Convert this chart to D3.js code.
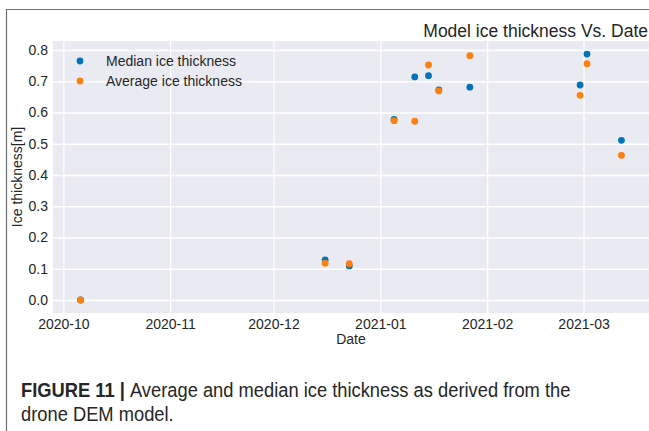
<!DOCTYPE html>
<html>
<head>
<meta charset="utf-8">
<script src="https://cdn.jsdelivr.net/npm/d3@7"></script>
<style>
  body { margin: 0; background: #fff; }
  svg { display: block; }
  text { font-family: "Liberation Sans", Arial, sans-serif; fill: #262626; }
</style>
</head>
<body>
<svg id="chart"></svg>
<script>
const width = 649;
const height = 431;

const dates = ["2020-10-06", "2020-12-16", "2020-12-23", "2021-01-05", "2021-01-11",
  "2021-01-15", "2021-01-18", "2021-01-27", "2021-02-28", "2021-03-02", "2021-03-12"];
const median = [0.0, 0.128, 0.109, 0.578, 0.714, 0.718, 0.672, 0.681, 0.688, 0.787, 0.511];
const average = [0.0, 0.118, 0.116, 0.574, 0.572, 0.752, 0.669, 0.782, 0.655, 0.756, 0.463];
const yTicks = [0.0, 0.1, 0.2, 0.3, 0.4, 0.5, 0.6, 0.7, 0.8];
const xTicks = ["2020-10-01", "2020-11-01", "2020-12-01", "2021-01-01", "2021-02-01", "2021-03-01"];

const blue = "#0173b6";
const orange = "#fd7f0e";

const parse = d3.utcParse("%Y-%m-%d");
const margin = { left: 53, right: 0, top: 41, bottom: 118 };

const svg = d3.select("#chart").attr("width", width).attr("height", height);

// figure frame
svg.append("path")
  .attr("d", `M6.5,${height} V9.5 H${width}`)
  .attr("fill", "none")
  .attr("stroke", "#6e6e6e")
  .attr("stroke-width", 1.2);

const xScale = d3.scaleUtc()
  .domain([parse("2020-09-28"), parse("2021-03-20")])
  .range([margin.left, width - margin.right]);

const yScale = d3.scaleLinear()
  .domain([-0.0416, 0.8288])
  .range([height - margin.bottom, margin.top]);

svg.append("rect")
  .attr("x", margin.left)
  .attr("y", margin.top)
  .attr("width", width - margin.left - margin.right)
  .attr("height", height - margin.bottom - margin.top)
  .attr("fill", "#eaeaf2");

// grid + ticks
const xAxis = svg.append("g")
  .attr("transform", `translate(0, ${height - margin.bottom})`)
  .call(d3.axisBottom(xScale)
    .tickValues(xTicks.map(parse))
    .tickFormat(d3.utcFormat("%Y-%m"))
    .tickSize(-(height - margin.bottom - margin.top))
    .tickPadding(6));
xAxis.select(".domain").remove();
xAxis.selectAll("line").attr("stroke", "#fff").attr("stroke-width", 1.3);
xAxis.selectAll("text").attr("font-size", 14).attr("fill", "#262626");

const yAxis = svg.append("g")
  .attr("transform", `translate(${margin.left}, 0)`)
  .call(d3.axisLeft(yScale)
    .tickValues(yTicks)
    .tickFormat(d3.format(".1f"))
    .tickSize(-(width - margin.left - margin.right))
    .tickPadding(5));
yAxis.select(".domain").remove();
yAxis.selectAll("line").attr("stroke", "#fff").attr("stroke-width", 1.3);
yAxis.selectAll("text").attr("font-size", 14).attr("fill", "#262626");

// points
svg.append("g")
  .selectAll("circle")
  .data(dates.map((d, i) => ({ date: parse(d), v: median[i] })))
  .enter()
  .append("circle")
  .attr("cx", d => xScale(d.date))
  .attr("cy", d => yScale(d.v))
  .attr("r", 3.4)
  .attr("fill", blue);

svg.append("g")
  .selectAll("circle")
  .data(dates.map((d, i) => ({ date: parse(d), v: average[i] })))
  .enter()
  .append("circle")
  .attr("cx", d => xScale(d.date))
  .attr("cy", d => yScale(d.v))
  .attr("r", 3.4)
  .attr("fill", orange);

// legend
const legend = svg.append("g");
[["Median ice thickness", blue], ["Average ice thickness", orange]].forEach(([label, c], i) => {
  legend.append("circle").attr("cx", 80).attr("cy", 61 + i * 20).attr("r", 3.4).attr("fill", c);
  legend.append("text").attr("x", 106).attr("y", 61 + i * 20).attr("dy", "0.35em")
    .attr("font-size", 14).text(label);
});

// titles
svg.append("text")
  .attr("x", 648).attr("y", 37)
  .attr("text-anchor", "end")
  .attr("font-size", 17.5)
  .text("Model ice thickness Vs. Date");

svg.append("text")
  .attr("x", (margin.left + width) / 2).attr("y", 344)
  .attr("text-anchor", "middle")
  .attr("font-size", 14)
  .text("Date");

svg.append("text")
  .attr("transform", `translate(22, ${(margin.top + height - margin.bottom) / 2}) rotate(-90)`)
  .attr("text-anchor", "middle")
  .attr("font-size", 14)
  .text("Ice thickness[m]");

// caption (condensed look)
const cap = svg.append("g").attr("transform", "translate(21, 0) scale(0.94, 1)");
const l1 = cap.append("text").attr("x", 0).attr("y", 397).attr("font-size", 19.5).attr("fill", "#222");
l1.append("tspan").attr("font-weight", "bold").text("FIGURE 11 | ");
l1.append("tspan").text("Average and median ice thickness as derived from the");
cap.append("text").attr("x", 0).attr("y", 421).attr("font-size", 19.5).attr("fill", "#222")
  .text("drone DEM model.");
</script>
</body>
</html>
